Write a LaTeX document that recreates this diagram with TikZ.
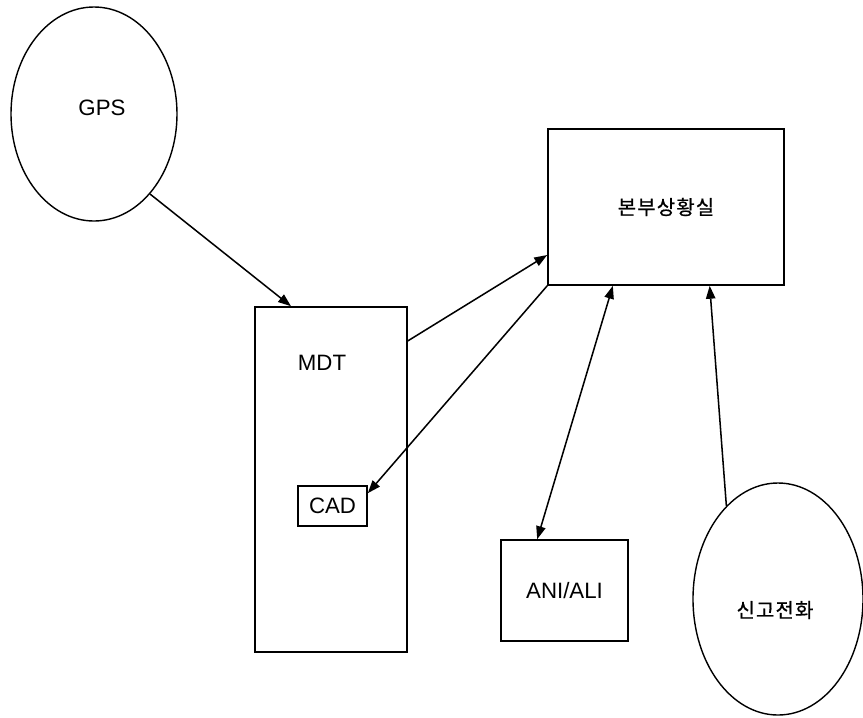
\documentclass[tikz,border=0pt]{standalone}
\usepackage{fontspec}
\setmainfont{Liberation Sans}
\newfontfamily\kr[LetterSpace=6,FakeBold=0.8]{Noto Sans CJK KR}
\usetikzlibrary{shapes.geometric,arrows.meta}

\begin{document}
\begin{tikzpicture}[x=0.03cm,y=-0.03cm,
        box/.style={draw,line width=1.4pt,inner sep=0pt},
        oval/.style={draw,ellipse,line width=1.2pt,inner sep=0pt},
        conn/.style={line width=1.3pt,-{Triangle[length=11pt,width=8pt]}},
        dualconn/.style={line width=1.3pt,{Triangle[length=11pt,width=8pt]}-{Triangle[length=11pt,width=8pt]}},
        font=\fontsize{19}{22}\selectfont]
        \useasboundingbox (0,0) rectangle (863,717);
        % Sources
        \node[oval,minimum width=4.98cm,minimum height=6.42cm] (gps) at (94,114) {};
        \node (gpstext) at (102,108) {GPS};
        \node[oval,minimum width=5.1cm,minimum height=6.96cm] (call) at (778,599) {};
        \node (calltext) at (775,610) {\kr\fontsize{17}{20}\selectfont 신고전화};
        % Boxes
        \node[box,minimum width=7.08cm,minimum height=4.68cm] (hq) at (666,207) {\kr\fontsize{17}{20}\selectfont 본부상황실};
        \node[box,minimum width=4.56cm,minimum height=10.35cm] (mdt) at (331,479.5) {};
        \node (mdttext) at (322,363) {MDT};
        \node[box,minimum width=2.07cm,minimum height=1.2cm] (cad) at (332.5,506) {CAD};
        \node[box,minimum width=3.81cm,minimum height=3.03cm] (ani) at (564.5,590.5) {ANI/ALI};
        % Links
        \draw[conn] (gps.-55) -- (mdt.103);
        \draw[conn] (mdt.61.4) -- (hq.202);
        \draw[conn] (hq.south west) -- (cad.20);
        \draw[dualconn] (ani.118.6) -- (hq.-124);
        \draw[conn] (call.119) -- (hq.-61.7);
\end{tikzpicture}
\end{document}
